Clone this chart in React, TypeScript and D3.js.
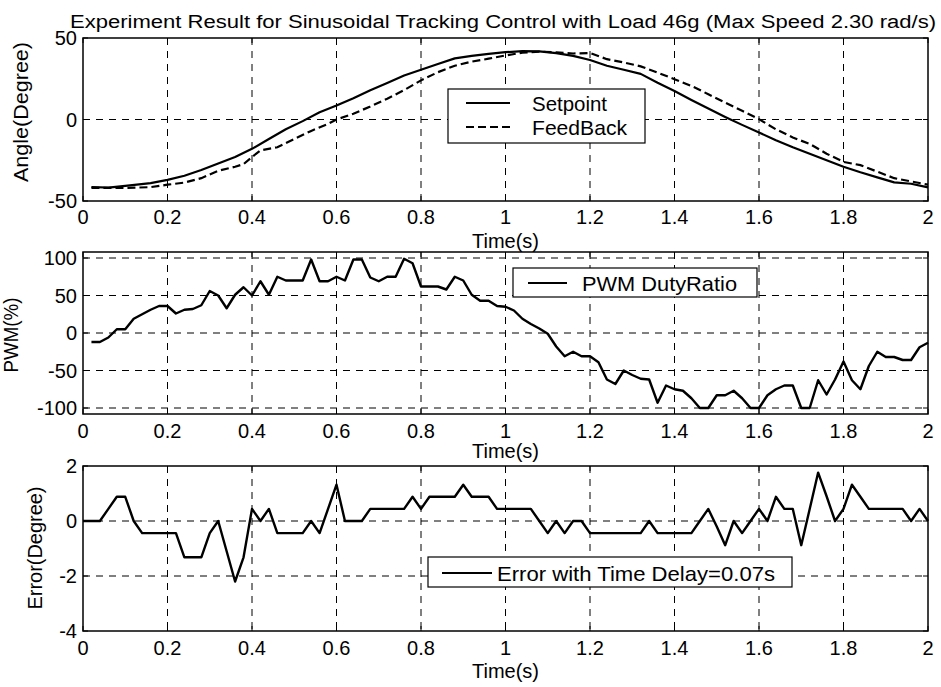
import React from "react";
import * as d3 from "d3";

// ---------- DATA ----------
const titleText = "Experiment Result for Sinusoidal Tracking Control with Load 46g (Max Speed 2.30 rad/s)";
const xTicks = [0, 0.2, 0.4, 0.6, 0.8, 1, 1.2, 1.4, 1.6, 1.8, 2];

const setpointT = [0.02, 0.06, 0.10, 0.16, 0.20, 0.24, 0.28, 0.32, 0.36, 0.40, 0.44, 0.48, 0.52, 0.56, 0.60, 0.64, 0.68, 0.72, 0.76, 0.80, 0.84, 0.88, 0.92, 0.96, 1.00, 1.04, 1.08, 1.12, 1.16, 1.20, 1.24, 1.28, 1.32, 1.36, 1.40, 1.44, 1.48, 1.52, 1.56, 1.60, 1.64, 1.68, 1.72, 1.76, 1.80, 1.84, 1.88, 1.92, 1.96, 2.00];
const setpointV = [-41.4, -41.8, -40.7, -39, -37, -34.5, -31, -27, -23, -18, -12, -6, -1, 4.5, 8.6, 13, 18, 22.4, 27, 30.5, 34, 37.5, 39, 40.3, 41.3, 41.9, 41.8, 40.7, 39, 36.5, 33, 30.5, 28, 22.6, 17.5, 12, 6.7, 1.6, -3.3, -8, -12.7, -17, -21, -25, -29, -32.4, -35.5, -38.6, -39.4, -41.6];

const feedbackT = [0.02, 0.10, 0.16, 0.20, 0.24, 0.28, 0.32, 0.36, 0.38, 0.40, 0.42, 0.46, 0.50, 0.54, 0.58, 0.60, 0.64, 0.68, 0.72, 0.76, 0.80, 0.84, 0.88, 0.92, 0.96, 1.00, 1.04, 1.08, 1.12, 1.16, 1.20, 1.24, 1.28, 1.32, 1.36, 1.40, 1.44, 1.48, 1.52, 1.56, 1.60, 1.64, 1.68, 1.72, 1.76, 1.80, 1.84, 1.88, 1.92, 1.96, 2.00];
const feedbackV = [-42, -42, -41.5, -40, -38.7, -36, -31.5, -29, -27.4, -23, -19, -17, -12, -7, -2.7, 0, 3.5, 8, 12.8, 18, 24, 29, 33, 35.5, 37.3, 39.3, 41, 41.7, 41.2, 40.5, 40.8, 37, 35, 32.6, 28.8, 24.7, 20.6, 15.5, 10.4, 5.3, 0.2, -6, -11, -15, -21, -26, -28, -32, -36, -38, -40];

const pwmT0 = 0.02;
const pwmStep = 0.02;
const pwmV = [-12, -12, -6, 5, 5, 19, 25, 31, 36, 36, 26, 31, 32, 37, 56, 50, 33, 51, 61, 50, 69, 51, 75, 70, 70, 70, 98, 69, 69, 75, 70, 98, 98, 74, 69, 75, 75, 99, 93, 62, 62, 62, 58, 75, 70, 51, 43, 43, 36, 35, 30, 19, 12, 6, -1, -18, -31, -25, -31, -31, -39, -62, -68, -50, -56, -61, -62, -93, -70, -75, -77, -87, -100, -100, -83, -83, -77, -87, -100, -100, -83, -75, -70, -70, -100, -100, -63, -82, -62, -38, -63, -75, -44, -25, -32, -32, -36, -36, -19, -13];

const errT0 = 0;
const errStep = 0.02;
const errV = [0, 0, 0, 0.44, 0.88, 0.88, 0, -0.44, -0.44, -0.44, -0.44, -0.44, -1.32, -1.32, -1.32, -0.44, 0, -1.1, -2.2, -1.32, 0.44, 0, 0.44, -0.44, -0.44, -0.44, -0.44, 0, -0.44, 0.44, 1.32, 0, 0, 0, 0.44, 0.44, 0.44, 0.44, 0.44, 0.88, 0.44, 0.88, 0.88, 0.88, 0.88, 1.32, 0.88, 0.88, 0.88, 0.44, 0.44, 0.44, 0.44, 0.44, 0, -0.44, 0, -0.44, 0, 0, -0.44, -0.44, -0.44, -0.44, -0.44, -0.44, -0.44, 0, -0.44, -0.44, -0.44, -0.44, -0.44, 0, 0.44, -0.2, -0.88, 0, -0.44, 0, 0.44, 0, 0.88, 0.44, 0.44, -0.88, 0.44, 1.76, 0.9, 0, 0.44, 1.32, 0.88, 0.44, 0.44, 0.44, 0.44, 0.44, 0, 0.44, 0];

const angleTicks = [-50, 0, 50];
const pwmTicks = [-100, -50, 0, 50, 100];
const errTicks = [-4, -2, 0, 2];

// ---------- LAYOUT ----------
const W = 941, H = 687;
const X0 = 83, X1 = 928;
const FONT = "'Liberation Sans', Arial, Helvetica, sans-serif";

type Panel = {
  y0: number; y1: number; dom: [number, number]; ticks: number[];
  tickBase: number; timeBase: number;
  ylabel: string; ylx: number; yly: number; ylLen: number;
};

const panels: Panel[] = [
  { y0: 38, y1: 201, dom: [-50, 50], ticks: angleTicks, tickBase: 224, timeBase: 248, ylabel: "Angle(Degree)", ylx: 21, yly: 112, ylLen: 140 },
  { y0: 252, y1: 414, dom: [-108, 108], ticks: pwmTicks, tickBase: 438, timeBase: 458, ylabel: "PWM(%)", ylx: 11, yly: 335, ylLen: 75 },
  { y0: 466, y1: 631, dom: [-4, 2], ticks: errTicks, tickBase: 655, timeBase: 678, ylabel: "Error(Degree)", ylx: 35, yly: 548, ylLen: 123 },
];

const x = d3.scaleLinear().domain([0, 2]).range([X0, X1]);

function fmt(v: number) {
  return String(v);
}

function PanelFrame({ p, children }: { p: Panel; children?: React.ReactNode }) {
  const y = d3.scaleLinear().domain(p.dom).range([p.y1, p.y0]);
  return (
    <g>
      {xTicks.filter((t) => t > 0 && t < 2).map((t) => (
        <line key={"gx" + t} x1={x(t)} x2={x(t)} y1={p.y0} y2={p.y1} stroke="#000" strokeWidth={1} strokeDasharray="7,6" />
      ))}
      {p.ticks.filter((v) => y(v) > p.y0 + 1 && y(v) < p.y1 - 1).map((v) => (
        <line key={"gy" + v} x1={X0} x2={X1} y1={y(v)} y2={y(v)} stroke="#000" strokeWidth={1} strokeDasharray="7,6" />
      ))}
      {xTicks.map((t) => (
        <g key={"tx" + t}>
          <line x1={x(t)} x2={x(t)} y1={p.y1} y2={p.y1 - 5} stroke="#000" />
          <line x1={x(t)} x2={x(t)} y1={p.y0} y2={p.y0 + 5} stroke="#000" />
        </g>
      ))}
      {p.ticks.map((v) => (
        <g key={"ty" + v}>
          <line x1={X0} x2={X0 + 5} y1={y(v)} y2={y(v)} stroke="#000" />
          <line x1={X1} x2={X1 - 5} y1={y(v)} y2={y(v)} stroke="#000" />
        </g>
      ))}
      {children}
      <rect x={X0} y={p.y0} width={X1 - X0} height={p.y1 - p.y0} fill="none" stroke="#000" strokeWidth={1.5} />
      {xTicks.map((t) => (
        <text key={"lx" + t} x={x(t)} y={p.tickBase} textAnchor="middle" fontSize={20} fontFamily={FONT}>{fmt(t)}</text>
      ))}
      {p.ticks.map((v) => (
        <text key={"ly" + v} x={77} y={y(v)} dy="0.36em" textAnchor="end" fontSize={20} fontFamily={FONT}>{fmt(v)}</text>
      ))}
      <text x={(X0 + X1) / 2} y={p.timeBase} textAnchor="middle" fontSize={20} fontFamily={FONT}>Time(s)</text>
      <text transform={`translate(${p.ylx},${p.yly}) rotate(-90)`} dy="0.36em" textAnchor="middle" fontSize={20} fontFamily={FONT} textLength={p.ylLen} lengthAdjust="spacingAndGlyphs">{p.ylabel}</text>
    </g>
  );
}

export default function App() {
  const [pTop, pMid, pBot] = panels;
  const yTop = d3.scaleLinear().domain(pTop.dom).range([pTop.y1, pTop.y0]);
  const yMid = d3.scaleLinear().domain(pMid.dom).range([pMid.y1, pMid.y0]);
  const yBot = d3.scaleLinear().domain(pBot.dom).range([pBot.y1, pBot.y0]);

  const setLine = d3.line<number>().x((_, i) => x(setpointT[i])).y((d) => yTop(d));
  const fbLine = d3.line<number>().x((_, i) => x(feedbackT[i])).y((d) => yTop(d));
  const pwmLine = d3.line<number>().x((_, i) => x(pwmT0 + i * pwmStep)).y((d) => yMid(d));
  const errLine = d3.line<number>().x((_, i) => x(errT0 + i * errStep)).y((d) => yBot(d));

  return (
    <svg width={W} height={H} style={{ position: "absolute", left: 0, top: 0, background: "#fff" }}>
      <rect x={0} y={0} width={W} height={H} fill="#fff" />
      <text x={503} y={28} textAnchor="middle" fontSize={18} fontFamily={FONT} textLength={866} lengthAdjust="spacingAndGlyphs">{titleText}</text>

      <PanelFrame p={pTop}>
        <path d={setLine(setpointV) || ""} fill="none" stroke="#000" strokeWidth={2.2} strokeLinejoin="round" />
        <path d={fbLine(feedbackV) || ""} fill="none" stroke="#000" strokeWidth={2.2} strokeDasharray="8,4" />
        <g>
          <rect x={448} y={89} width={197} height={54} fill="#fff" stroke="#000" strokeWidth={1.2} />
          <line x1={466} x2={510} y1={103} y2={103} stroke="#000" strokeWidth={2.2} />
          <line x1={466} x2={510} y1={127} y2={127} stroke="#000" strokeWidth={2.2} strokeDasharray="8,4" />
          <text x={532} y={103} dy="0.36em" fontSize={21} fontFamily={FONT} textLength={75} lengthAdjust="spacingAndGlyphs">Setpoint</text>
          <text x={532} y={127} dy="0.36em" fontSize={21} fontFamily={FONT} textLength={95} lengthAdjust="spacingAndGlyphs">FeedBack</text>
        </g>
      </PanelFrame>

      <PanelFrame p={pMid}>
        <path d={pwmLine(pwmV) || ""} fill="none" stroke="#000" strokeWidth={2.4} strokeLinejoin="round" />
        <g>
          <rect x={513} y={268} width={244} height={29} fill="#fff" stroke="#000" strokeWidth={1.2} />
          <line x1={528} x2={567} y1={283} y2={283} stroke="#000" strokeWidth={2.2} />
          <text x={582} y={283} dy="0.36em" fontSize={21} fontFamily={FONT} textLength={155} lengthAdjust="spacingAndGlyphs">PWM DutyRatio</text>
        </g>
      </PanelFrame>

      <PanelFrame p={pBot}>
        <path d={errLine(errV) || ""} fill="none" stroke="#000" strokeWidth={2.4} strokeLinejoin="round" />
        <g>
          <rect x={428} y={557} width={364} height={30} fill="#fff" stroke="#000" strokeWidth={1.2} />
          <line x1={442} x2={492} y1={573} y2={573} stroke="#000" strokeWidth={2.2} />
          <text x={497} y={573} dy="0.36em" fontSize={21} fontFamily={FONT} textLength={278} lengthAdjust="spacingAndGlyphs">Error with Time Delay=0.07s</text>
        </g>
      </PanelFrame>
    </svg>
  );
}
